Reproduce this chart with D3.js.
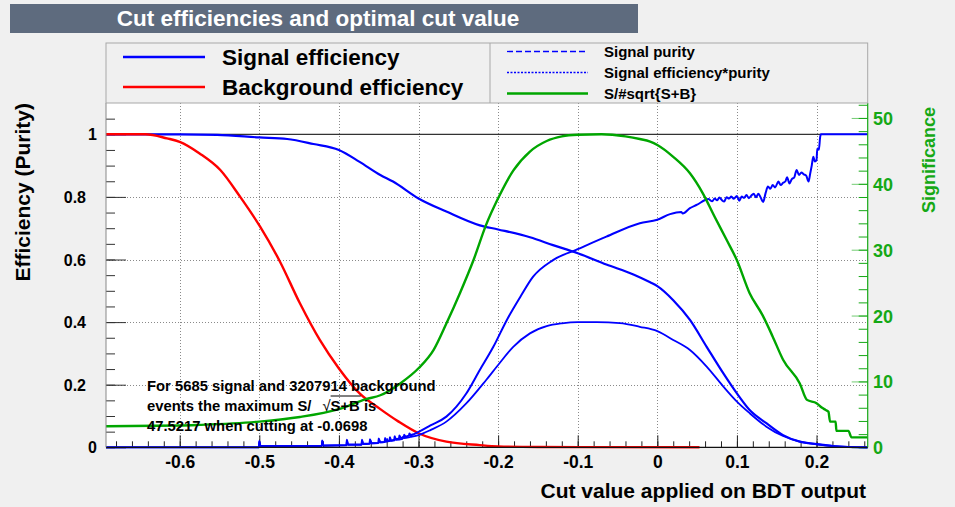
<!DOCTYPE html>
<html><head><meta charset="utf-8">
<script src="https://cdn.jsdelivr.net/npm/d3@7"></script>
<style>
body{margin:0;background:#f0f0f0}
svg{display:block}
text{font-family:"Liberation Sans",Arial,Helvetica,sans-serif;font-weight:bold}
</style>
</head><body>
<svg id="c" width="955" height="507"></svg>
<script>
// ---------------- data ----------------
const xTickValues = [-0.6,-0.5,-0.4,-0.3,-0.2,-0.1,0,0.1,0.2];
const xTickLabels = ["-0.6","-0.5","-0.4","-0.3","-0.2","-0.1","0","0.1","0.2"];
const yTickValues = [0,0.2,0.4,0.6,0.8,1];
const yTickLabels = ["0","0.2","0.4","0.6","0.8","1"];
const sigTickValues = [0,10,20,30,40,50];
const sigTickLabels = ["0","10","20","30","40","50"];

const xDomain = [-0.6926, 0.2643];
const yMax = 1.1;
const sigMax = 52.27;

// Signal efficiency [cut, value]
const signalEff = [[-0.6926,1],[-0.6,1],[-0.553,0.998],[-0.5,0.99],[-0.465,0.985],[-0.432,0.969],[-0.4,0.95],
  [-0.374,0.912],[-0.348,0.87],[-0.332,0.849],[-0.3,0.795],[-0.265,0.753],[-0.223,0.709],[-0.2,0.696],
  [-0.16,0.671],[-0.131,0.646],[-0.1,0.62],[-0.064,0.584],[-0.03,0.552],[-0.009,0.527],[0,0.515],[0.02,0.47],[0.041,0.407],
  [0.062,0.321],[0.083,0.236],[0.1,0.172],[0.116,0.119],[0.137,0.077],[0.158,0.039],[0.179,0.018],
  [0.2,0.01],[0.221,0.004],[0.24,0.001],[0.2643,0]];

// Background efficiency
const backgroundEff = [[-0.6926,1],[-0.643,1],[-0.616,0.987],[-0.6,0.976],[-0.575,0.939],[-0.549,0.886],
  [-0.524,0.80],[-0.499,0.705],[-0.474,0.593],[-0.449,0.46],[-0.424,0.343],[-0.4,0.252],[-0.374,0.172],
  [-0.348,0.122],[-0.325,0.082],[-0.3,0.045],[-0.265,0.018],[-0.223,0.007],[-0.2,0.003],[-0.15,0.001],[0.053,0]];

// Signal purity
const signalPurity = [[-0.6926,0],[-0.5005,0],[-0.5,0.02],[-0.4985,0.004],[-0.4215,0.004],[-0.421,0.022],
  [-0.4195,0.006],[-0.3905,0.007],[-0.39,0.024],[-0.3885,0.009],[-0.3715,0.009],[-0.371,0.024],[-0.3695,0.011],
  [-0.3615,0.011],[-0.361,0.026],[-0.3595,0.013],[-0.3505,0.014],[-0.35,0.028],[-0.3485,0.016],[-0.3425,0.017],
  [-0.342,0.03],[-0.3405,0.019],[-0.3365,0.02],[-0.336,0.032],[-0.3345,0.022],[-0.3305,0.024],[-0.33,0.035],
  [-0.3285,0.026],[-0.3245,0.028],[-0.324,0.038],[-0.3225,0.03],[-0.3185,0.032],[-0.318,0.04],[-0.3165,0.034],
  [-0.312,0.037],[-0.3115,0.044],[-0.31,0.039],[-0.305,0.043],[-0.3,0.049],[-0.285,0.07],[-0.265,0.098],
  [-0.24,0.172],[-0.223,0.247],[-0.206,0.321],[-0.189,0.407],[-0.172,0.481],[-0.156,0.545],[-0.131,0.598],
  [-0.1,0.633],[-0.064,0.673],[-0.022,0.716],[0,0.727],[0.016,0.745],[0.03,0.752],[0.032,0.747],[0.041,0.764],
  [0.05,0.775],[0.06,0.79],[0.064,0.793],[0.069,0.786],[0.072,0.795],[0.075,0.789],[0.078,0.798],[0.081,0.79],
  [0.084,0.785],[0.087,0.799],[0.09,0.795],[0.093,0.801],[0.096,0.794],[0.1,0.803],[0.103,0.788],[0.106,0.801],
  [0.109,0.797],[0.112,0.806],[0.115,0.796],[0.118,0.804],[0.121,0.81],[0.124,0.799],[0.127,0.81],[0.13,0.797],
  [0.133,0.784],[0.136,0.812],[0.139,0.833],[0.142,0.826],[0.145,0.838],[0.148,0.83],[0.152,0.849],[0.155,0.838],
  [0.158,0.845],[0.161,0.85],[0.163,0.863],[0.166,0.843],[0.169,0.857],[0.172,0.862],[0.175,0.886],[0.178,0.87],
  [0.181,0.878],[0.184,0.872],[0.187,0.868],[0.19,0.849],[0.192,0.874],[0.194,0.9],[0.196,0.928],[0.198,0.913],
  [0.2,0.918],[0.201,0.955],[0.203,0.951],[0.2045,0.99],[0.2055,1.0],[0.2643,1.0]];

// Signal efficiency * purity
const effTimesPurity = [[-0.6926,0],[-0.5005,0],[-0.5,0.018],[-0.4985,0.003],[-0.4215,0.004],[-0.421,0.02],
  [-0.4195,0.005],[-0.3905,0.006],[-0.39,0.021],[-0.3885,0.008],[-0.3715,0.008],[-0.371,0.021],[-0.3695,0.01],
  [-0.361,0.012],[-0.3605,0.023],[-0.359,0.013],[-0.35,0.014],[-0.3495,0.025],[-0.348,0.016],[-0.34,0.018],
  [-0.3395,0.027],[-0.338,0.02],[-0.33,0.022],[-0.3295,0.03],[-0.328,0.024],[-0.32,0.027],[-0.3195,0.034],
  [-0.318,0.029],[-0.31,0.033],[-0.3,0.039],[-0.285,0.055],[-0.265,0.082],[-0.24,0.14],[-0.215,0.215],
  [-0.2,0.263],[-0.181,0.321],[-0.16,0.364],[-0.139,0.387],[-0.12,0.396],[-0.1,0.40],[-0.076,0.40],
  [-0.047,0.397],[-0.022,0.385],[0,0.371],[0.02,0.343],[0.041,0.311],[0.062,0.258],[0.083,0.194],[0.1,0.146],
  [0.116,0.109],[0.137,0.066],[0.158,0.036],[0.179,0.018],[0.2,0.01],[0.221,0.004],[0.2643,0]];

// Significance S/sqrt(S+B) (right axis)
const significance = [[-0.6926,3.2],[-0.6,3.3],[-0.575,3.4],[-0.5,3.9],[-0.449,4.6],[-0.4,5.8],[-0.366,7.3],
  [-0.348,7.9],[-0.323,9.7],[-0.3,12.0],[-0.281,14.8],[-0.265,18.8],[-0.248,23.4],[-0.231,28.4],[-0.215,33.8],
  [-0.2,37.8],[-0.181,42.0],[-0.16,44.9],[-0.139,46.5],[-0.12,47.2],[-0.1,47.45],[-0.07,47.52],[-0.04,47.2],
  [-0.022,46.8],[-0.009,46.4],[0,45.9],[0.02,44.1],[0.041,41.6],[0.057,38.6],[0.072,35.0],[0.087,31.5],
  [0.1,28.4],[0.116,23.4],[0.132,20.1],[0.145,16.8],[0.158,13.3],[0.179,9.7],[0.188,7.2],[0.2,6.7],
  [0.207,6.0],[0.211,5.7],[0.215,5.4],[0.217,3.9],[0.224,3.9],[0.225,2.5],[0.24,2.5],[0.244,1.5],[0.2643,1.5]];

// ---------------- layout ----------------
const svg = d3.select("#c");
const L = 106, R = 867.7, T = 103, B = 447.3;
const x = d3.scaleLinear().domain(xDomain).range([L, R]);
const y = d3.scaleLinear().domain([0, yMax]).range([B, T]);
const y2 = d3.scaleLinear().domain([0, sigMax]).range([B, T]);
const BLUE = "#0000ff", RED = "#ff0000", GREEN = "#00a600", GREENAX = "#15a815";

svg.append("rect").attr("width",955).attr("height",507).attr("fill","#f0f0f0");

// title box
svg.append("rect").attr("x",10).attr("y",4).attr("width",628).attr("height",29).attr("fill","#5e6b7e");
svg.append("text").attr("x",318).attr("y",26).attr("text-anchor","middle").attr("fill","#ffffff")
  .style("font-size","22.5px").text("Cut efficiencies and optimal cut value");

// plot area
svg.append("rect").attr("x",L).attr("y",T).attr("width",R-L).attr("height",B-T).attr("fill","#ffffff");

// grid
const grid = svg.append("g").attr("stroke","#8a8a8a").attr("stroke-width",1).attr("stroke-dasharray","1,2");
xTickValues.forEach(v=>grid.append("line").attr("x1",Math.round(x(v))+0.5).attr("x2",Math.round(x(v))+0.5).attr("y1",T).attr("y2",B));
yTickValues.filter(v=>v>0&&v<1).forEach(v=>grid.append("line").attr("x1",L).attr("x2",R).attr("y1",Math.round(y(v))+0.5).attr("y2",Math.round(y(v))+0.5));

// line at 1
svg.append("line").attr("x1",L).attr("x2",R).attr("y1",y(1)).attr("y2",y(1)).attr("stroke","#333").attr("stroke-width",1.2);

// axes ticks
const xMinor = d3.range(-68,27,2).map(d=>d/100);
svg.append("g").attr("transform",`translate(0,${B})`)
  .call(d3.axisBottom(x).tickValues(xMinor).tickSize(-6).tickFormat(""))
  .call(g=>{g.select(".domain").remove(); g.selectAll("line").attr("stroke","#222");});
svg.append("g").attr("transform",`translate(0,${B})`)
  .call(d3.axisBottom(x).tickValues(xTickValues).tickSize(-12).tickPadding(20).tickFormat((d,i)=>xTickLabels[i]))
  .call(g=>{g.select(".domain").remove(); g.selectAll("line").attr("stroke","#222");
    g.selectAll("text").attr("fill","#000").style("font-size","17.5px").style("font-family",null).attr("y",21).attr("dy",0);});

const yMinor = d3.range(0,22,1).map(d=>d*0.05).filter(v=>v<=1.1);
svg.append("g").attr("transform",`translate(${L},0)`)
  .call(d3.axisRight(y).tickValues(yMinor).tickSize(9).tickFormat(""))
  .call(g=>{g.select(".domain").remove(); g.selectAll("line").attr("stroke","#333");});
svg.append("g").attr("transform",`translate(${L},0)`)
  .call(d3.axisRight(y).tickValues(yTickValues).tickSize(20).tickFormat(""))
  .call(g=>{g.select(".domain").remove(); g.selectAll("line").attr("stroke","#333");});
const yl = svg.append("g");
yTickValues.forEach((v,i)=>{
  const lab = yTickLabels[i];
  yl.append("text").attr("x", lab.length===1 ? 97 : 86).attr("y", y(v)+6).attr("text-anchor","end")
    .style("font-size","16px").text(lab);
});

// right axis
const y2Minor = d3.range(0,53,2);
svg.append("g").attr("transform",`translate(${R},0)`)
  .call(d3.axisLeft(y2).tickValues(y2Minor).tickSize(9).tickFormat(""))
  .call(g=>{g.select(".domain").remove(); g.selectAll("line").attr("stroke",GREENAX);});
svg.append("g").attr("transform",`translate(${R},0)`)
  .call(d3.axisLeft(y2).tickValues(sigTickValues).tickSize(16).tickFormat(""))
  .call(g=>{g.select(".domain").remove(); g.selectAll("line").attr("stroke",GREENAX).attr("stroke-opacity",0.6);});
sigTickValues.forEach((v,i)=>{
  svg.append("text").attr("x",873).attr("y",y2(v)+7).attr("fill",GREENAX).style("font-size","18px").text(sigTickLabels[i]);
});

// curves
svg.append("clipPath").attr("id","pc").append("rect").attr("x",L).attr("y",T-2).attr("width",R-L).attr("height",B-T+4);
const curves = svg.append("g").attr("clip-path","url(#pc)");
const smooth = d3.line().x(d=>x(d[0])).y(d=>y(d[1])).curve(d3.curveMonotoneX);
const smooth2 = d3.line().x(d=>x(d[0])).y(d=>y2(d[1])).curve(d3.curveMonotoneX);
curves.append("path").datum(signalEff).attr("d",smooth).attr("fill","none").attr("stroke",BLUE).attr("stroke-width",2.2);
curves.append("path").datum(backgroundEff).attr("d",smooth).attr("fill","none").attr("stroke",RED).attr("stroke-width",2.4);
curves.append("path").datum(signalPurity).attr("d",smooth).attr("fill","none").attr("stroke",BLUE).attr("stroke-width",2);
curves.append("path").datum(effTimesPurity).attr("d",smooth).attr("fill","none").attr("stroke",BLUE).attr("stroke-width",1.8);
curves.append("path").datum(significance).attr("d",smooth2).attr("fill","none").attr("stroke",GREEN).attr("stroke-width",2.4);

// axis lines
svg.append("line").attr("x1",L).attr("x2",R).attr("y1",B).attr("y2",B).attr("stroke","#111").attr("stroke-width",1.2);
svg.append("line").attr("x1",L).attr("x2",L).attr("y1",T).attr("y2",B).attr("stroke","#888").attr("stroke-width",1);
svg.append("line").attr("x1",R).attr("x2",R).attr("y1",T).attr("y2",B).attr("stroke",GREENAX).attr("stroke-width",1.2);

// axis titles
svg.append("text").attr("x",866).attr("y",498).attr("text-anchor","end").style("font-size","21px").text("Cut value applied on BDT output");
svg.append("text").attr("transform","translate(30,103) rotate(-90)").attr("text-anchor","end").style("font-size","21px").text("Efficiency (Purity)");
svg.append("text").attr("transform","translate(935,107) rotate(-90)").attr("text-anchor","end").attr("fill",GREENAX).style("font-size","18px").text("Significance");

// legend
svg.append("rect").attr("x",L).attr("y",43).attr("width",R-L).attr("height",60).attr("fill","#f0f0f0").attr("stroke","#a8a8a8").attr("stroke-width",1);
svg.append("line").attr("x1",490).attr("x2",490).attr("y1",43).attr("y2",103).attr("stroke","#a8a8a8");
const legL = [{label:"Signal efficiency",color:BLUE,y:57},{label:"Background efficiency",color:RED,y:87}];
legL.forEach(d=>{
  svg.append("line").attr("x1",123).attr("x2",205).attr("y1",d.y).attr("y2",d.y).attr("stroke",d.color).attr("stroke-width",2.4);
  svg.append("text").attr("x",222).attr("y",d.y+8).style("font-size","22.5px").text(d.label);
});
const legR = [{label:"Signal purity",color:BLUE,y:51.5,dash:"6,3",w:1.3},
  {label:"Signal efficiency*purity",color:BLUE,y:72.5,dash:"2,1.5",w:1.3},
  {label:"S/#sqrt{S+B}",color:GREEN,y:93.5,dash:null,w:2.4}];
legR.forEach(d=>{
  svg.append("line").attr("x1",507).attr("x2",588).attr("y1",d.y).attr("y2",d.y).attr("stroke",d.color)
    .attr("stroke-width",d.w).attr("stroke-dasharray",d.dash);
  svg.append("text").attr("x",604).attr("y",d.y+5.5).style("font-size","15px").text(d.label);
});

// annotation
const ann = svg.append("g").style("font-size","14.8px");
ann.append("text").attr("x",147).attr("y",391).text("For 5685 signal and 3207914 background");
const t2 = ann.append("text").attr("x",147).attr("y",411);
t2.append("tspan").text("events the maximum S/");
t2.append("tspan").attr("dx",11).style("font-weight","normal").text("√");
t2.append("tspan").text("S+B");
t2.append("tspan").text(" is");
ann.append("text").attr("x",147).attr("y",431).text("47.5217 when cutting at -0.0698");
const n = t2.node();
const s = "events the maximum S/".length + 1;
const x0 = n.getStartPositionOfChar(s).x, x1 = n.getEndPositionOfChar(s+2).x;
ann.append("line").attr("x1",x0).attr("x2",x1+1).attr("y1",396).attr("y2",396).attr("stroke","#000").attr("stroke-width",1);
</script>
</body></html>
